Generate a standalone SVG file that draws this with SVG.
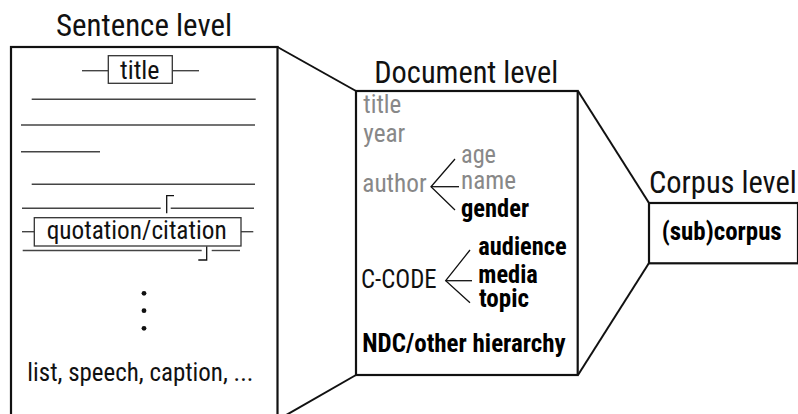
<svg xmlns="http://www.w3.org/2000/svg" width="798" height="414" viewBox="0 0 798 414">
<style>
text{font-family:"Roboto Condensed",Roboto,"Liberation Sans",sans-serif;}
.h{font-size:31px;fill:#111;}
.t{font-size:26px;fill:#111;}
.g{font-size:25.5px;fill:#888;}
.b{font-size:25px;fill:#000;font-weight:bold;}
.box{fill:#fff;stroke:#111;stroke-width:2.2;}
.ln{stroke:#444;stroke-width:1.4;fill:none;}
.conn{stroke:#111;stroke-width:2;fill:none;}
.br{stroke:#111;stroke-width:1.3;fill:none;}
</style>
<rect width="798" height="414" fill="#fff"/>
<g id="connectors">
<line class="conn" x1="277.5" y1="47" x2="356" y2="91"/>
<line class="conn" x1="277.5" y1="420" x2="356" y2="375"/>
<line class="conn" x1="578" y1="91" x2="649" y2="203"/>
<line class="conn" x1="578" y1="375" x2="649" y2="263"/>
</g>
<g id="sentence-level">
<text class="h" x="56" y="36" textLength="176" lengthAdjust="spacingAndGlyphs">Sentence level</text>
<rect class="box" x="11" y="47" width="266.5" height="380"/>
<line class="ln" x1="82" y1="70.7" x2="108.3" y2="70.7"/>
<line class="ln" x1="172.3" y1="70.7" x2="199" y2="70.7"/>
<rect x="108.3" y="55.7" width="64" height="27.6" fill="#fff" stroke="#333" stroke-width="1.3"/>
<text class="t" x="120" y="78.5" textLength="39.5" lengthAdjust="spacingAndGlyphs">title</text>
<line class="ln" x1="31.7" y1="99.3" x2="255.7" y2="99.3"/>
<line class="ln" x1="21" y1="125" x2="255" y2="125"/>
<line class="ln" x1="21" y1="151.7" x2="100" y2="151.7"/>
<line class="ln" x1="31.7" y1="184.3" x2="255" y2="184.3"/>
<line class="ln" x1="22" y1="208.3" x2="160.7" y2="208.3"/>
<line class="ln" x1="170.7" y1="208.3" x2="254" y2="208.3"/>
<polyline class="br" points="174,195.7 166.7,195.7 166.7,213.3"/>
<line class="ln" x1="22" y1="231.7" x2="34.3" y2="231.7"/>
<line class="ln" x1="241" y1="231.7" x2="253.3" y2="231.7"/>
<rect x="34.3" y="217.7" width="206.7" height="28.3" fill="#fff" stroke="#333" stroke-width="1.3"/>
<text class="t" x="46.7" y="239" textLength="180" lengthAdjust="spacingAndGlyphs">quotation/citation</text>
<line class="ln" x1="22.7" y1="250.5" x2="201.7" y2="250.5" stroke-width="1.8"/>
<line class="ln" x1="211.7" y1="250.5" x2="240" y2="250.5" stroke-width="1.8"/>
<polyline class="br" points="198.3,260 206.7,260 206.7,246.5"/>
<circle cx="144" cy="293.3" r="2.4" fill="#111"/>
<circle cx="144" cy="310.7" r="2.4" fill="#111"/>
<circle cx="144" cy="328.3" r="2.4" fill="#111"/>
<text class="t" x="27.3" y="380.5" textLength="226" lengthAdjust="spacingAndGlyphs">list, speech, caption, ...</text>
</g>
<g id="document-level">
<text class="h" x="374.3" y="83.3" textLength="184" lengthAdjust="spacingAndGlyphs">Document level</text>
<rect class="box" x="356" y="91" width="221.7" height="284"/>
<text class="g" x="363.3" y="113.3" textLength="38" lengthAdjust="spacingAndGlyphs">title</text>
<text class="g" x="363.3" y="141.7" textLength="42" lengthAdjust="spacingAndGlyphs">year</text>
<text class="g" x="362.3" y="191.7" textLength="64.4" lengthAdjust="spacingAndGlyphs">author</text>
<polyline class="br" points="455,159 431,186.7 455,210"/>
<line class="br" x1="431" y1="186.7" x2="459" y2="186.7"/>
<text class="g" x="461" y="163.3" textLength="35" lengthAdjust="spacingAndGlyphs">age</text>
<text class="g" x="461" y="189.3" textLength="55" lengthAdjust="spacingAndGlyphs">name</text>
<text class="b" x="461" y="216.7" textLength="68" lengthAdjust="spacingAndGlyphs">gender</text>
<text class="t" x="361" y="287.7" textLength="75.7" lengthAdjust="spacingAndGlyphs">C-CODE</text>
<polyline class="br" points="470,250 445.7,280.7 470,302.7"/>
<line class="br" x1="445.7" y1="280.7" x2="472" y2="280.7"/>
<text class="b" x="478.3" y="255" textLength="88.4" lengthAdjust="spacingAndGlyphs">audience</text>
<text class="b" x="478.3" y="283.3" textLength="59.5" lengthAdjust="spacingAndGlyphs">media</text>
<text class="b" x="479" y="307.3" textLength="50" lengthAdjust="spacingAndGlyphs">topic</text>
<text class="b" x="362.3" y="351.7" textLength="203.4" lengthAdjust="spacingAndGlyphs">NDC/other hierarchy</text>
</g>
<g id="corpus-level">
<text class="h" x="649" y="192.7" textLength="147.7" lengthAdjust="spacingAndGlyphs">Corpus level</text>
<rect class="box" x="649" y="203" width="149" height="60.3"/>
<text class="b" x="661.7" y="240" textLength="120" lengthAdjust="spacingAndGlyphs">(sub)corpus</text>
</g>
</svg>
